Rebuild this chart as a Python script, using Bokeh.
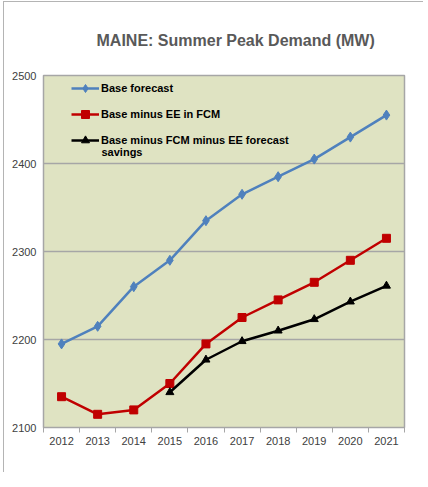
import numpy as np
from bokeh.plotting import figure
from bokeh.models import Range1d, FixedTicker, Legend, LegendItem, Label
from bokeh.embed import file_html
from bokeh.resources import INLINE

title_text = "MAINE: Summer Peak Demand (MW)"
years = ["2012", "2013", "2014", "2015", "2016", "2017", "2018", "2019", "2020", "2021"]
base_forecast = [2195, 2215, 2260, 2290, 2335, 2365, 2385, 2405, 2430, 2455]
base_minus_ee_fcm = [2135, 2115, 2120, 2150, 2195, 2225, 2245, 2265, 2290, 2315]
base_minus_fcm_ee = [np.nan, np.nan, np.nan, 2140, 2177, 2198, 2210, 2223, 2243, 2261]
y_ticks = [2100, 2200, 2300, 2400, 2500]
legend_labels = ["Base forecast", "Base minus EE in FCM", "Base minus FCM minus EE forecast", "savings"]

xs = [i + 0.5 for i in range(len(years))]

p = figure(width=420, height=471, output_backend="svg", toolbar_location=None,
           x_range=Range1d(0, len(years)), y_range=Range1d(2100, 2500),
           min_border_left=39, min_border_right=20, min_border_top=73, min_border_bottom=46)
p.styles = {"margin-left": "3px", "margin-top": "1px",
            "border-left": "1px solid #b4b4b4", "border-top": "1px solid #b4b4b4"}

FONT = "Liberation Sans"
p.background_fill_color = "#dfe3c2"
p.border_fill_color = "white"
p.outline_line_color = "#a6a6a6"
p.outline_line_width = 1.5

p.title.text = title_text
p.title.text_font = FONT
p.title.text_font_size = "16px"
p.title.text_font_style = "bold"
p.title.text_color = "#595959"
p.title.align = "left"
p.title.offset = 53
p.title.vertical_align = "top"
p.title.standoff = 50

p.xgrid.visible = False
p.ygrid.grid_line_color = "#a6a6a6"
p.ygrid.grid_line_width = 1.5
p.yaxis.ticker = FixedTicker(ticks=y_ticks)
p.yaxis.axis_line_color = None
p.yaxis.major_tick_line_color = None
p.yaxis.minor_tick_line_color = None
p.yaxis.major_tick_out = 0
p.yaxis.major_label_standoff = 7
p.yaxis.major_label_text_font = FONT
p.yaxis.major_label_text_font_size = "11px"
p.yaxis.major_label_text_color = "#404040"

p.xaxis.ticker = FixedTicker(ticks=xs, minor_ticks=list(range(len(years) + 1)))
p.xaxis.major_label_overrides = {x: y for x, y in zip(xs, years)}
p.xaxis.axis_line_color = "#a6a6a6"
p.xaxis.major_tick_line_color = None
p.xaxis.major_tick_out = 0
p.xaxis.major_tick_in = 0
p.xaxis.minor_tick_line_color = "#a6a6a6"
p.xaxis.minor_tick_out = 5
p.xaxis.minor_tick_in = 0
p.xaxis.major_label_standoff = 4
p.xaxis.major_label_text_font = FONT
p.xaxis.major_label_text_font_size = "11px"
p.xaxis.major_label_text_color = "#404040"

BLUE, RED, BLACK = "#4f81bd", "#c00000", "#000000"
l1 = p.line(xs, base_forecast, line_color=BLUE, line_width=2.5)
m1 = p.scatter(xs, base_forecast, marker="diamond", size=10, color=BLUE)
l2 = p.line(xs, base_minus_ee_fcm, line_color=RED, line_width=2.5)
m2 = p.scatter(xs, base_minus_ee_fcm, marker="square", size=8, color=RED)
l3 = p.line(xs, base_minus_fcm_ee, line_color=BLACK, line_width=2.5)
m3 = p.scatter(xs, base_minus_fcm_ee, marker="triangle", size=8, color=BLACK)

legend = Legend(items=[
    LegendItem(label=legend_labels[0], renderers=[l1, m1]),
    LegendItem(label=legend_labels[1], renderers=[l2, m2]),
    LegendItem(label=legend_labels[2], renderers=[l3, m3]),
], location=(28, 277))
legend.background_fill_alpha = 0
legend.border_line_color = None
legend.margin = 0
legend.padding = 0
legend.spacing = 6
legend.glyph_width = 28
legend.glyph_height = 20
legend.label_height = 20
legend.label_standoff = 2
legend.label_text_font = FONT
legend.label_text_font_size = "11px"
legend.label_text_font_style = "bold"
legend.label_text_color = "black"
p.add_layout(legend, "center")

p.add_layout(Label(x=58, y=276, x_units="screen", y_units="screen", text=legend_labels[3],
                   text_font=FONT, text_font_size="11px", text_font_style="bold",
                   text_color="black", text_baseline="middle"))

open("out.html", "w").write(file_html(p, INLINE))
